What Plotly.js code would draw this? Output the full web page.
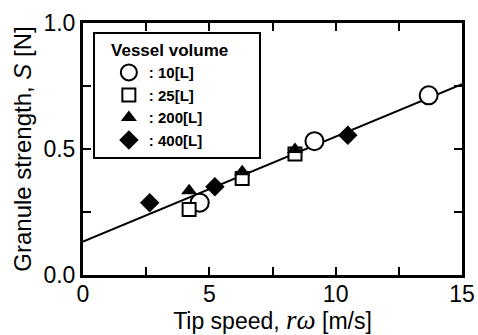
<!DOCTYPE html>
<html><head><meta charset="utf-8">
<script src="https://cdn.plot.ly/plotly-3.0.1.min.js"></script>
<style>html,body{margin:0;padding:0;background:#fff}#c{width:478px;height:335px}</style>
</head><body><div id="c"></div>
<script>
const x10 = [4.62, 9.16, 13.68];
const y10 = [0.287, 0.531, 0.713];
const x25 = [4.2, 6.3, 8.39];
const y25 = [0.260, 0.383, 0.480];
const x200 = [4.2, 6.3, 8.39];
const y200 = [0.334, 0.410, 0.498];
const x400 = [2.64, 5.22, 10.48];
const y400 = [0.287, 0.350, 0.555];
const fitX = [0, 15];
const fitY = [0.133, 0.757];
const names = [': 10[L]', ': 25[L]', ': 200[L]', ': 400[L]'];
const xTickVals = [0, 2.5, 5, 7.5, 10, 12.5, 15];
const xTickText = ['0', '', '5', '', '10', '', '15'];
const yTickVals = [0, 0.25, 0.5, 0.75, 1];
const yTickText = ['0.0', '', '0.5', '', '1.0'];

const F = 'Liberation Sans, Arial, sans-serif';
const traces = [
  {x: fitX, y: fitY, mode: 'lines', line: {color: '#000', width: 2}, showlegend: false, hoverinfo: 'skip'},
  {x: x10, y: y10, mode: 'markers', name: names[0], marker: {symbol: 'circle', size: 18, color: '#fff', line: {width: 2, color: '#000'}}},
  {x: x25, y: y25, mode: 'markers', name: names[1], marker: {symbol: 'square', size: 13, color: '#fff', line: {width: 2, color: '#000'}}},
  {x: x200, y: y200, mode: 'markers', name: names[2], marker: {symbol: 'triangle-up', size: 14, color: '#000'}},
  {x: x400, y: y400, mode: 'markers', name: names[3], marker: {symbol: 'diamond', size: 15, color: '#000'}}
];
const axBase = {showgrid: false, zeroline: false, showline: true, linecolor: '#000', linewidth: 3, mirror: 'ticks',
  ticks: 'inside', ticklen: 8, tickwidth: 2, tickcolor: '#000', tickfont: {family: F, size: 23, color: '#000'}};
const layout = {
  width: 478, height: 335,
  margin: {l: 83, r: 16, t: 23, b: 60},
  paper_bgcolor: '#fff', plot_bgcolor: 'rgba(0,0,0,0)',
  font: {family: F, color: '#000'},
  xaxis: Object.assign({}, axBase, {range: [0, 15], tickmode: 'array', tickvals: xTickVals, ticktext: xTickText,
    ticklabelstandoff: -4, layer: 'above traces',
    title: {text: 'Tip speed, <i><span style="font-family:Liberation Serif;font-size:27px">rω</span></i> [m/s]', font: {family: F, size: 23}, standoff: 3}}),
  yaxis: Object.assign({}, axBase, {range: [0, 1], tickmode: 'array', tickvals: yTickVals, ticktext: yTickText,
    ticklabelstandoff: 0, layer: 'above traces',
    title: {text: 'Granule strength, <i>S</i> [N]', font: {family: F, size: 24}, standoff: 6}}),
  showlegend: true,
  legend: {x: 0.026, y: 0.964, xanchor: 'left', yanchor: 'top', bgcolor: '#fff', bordercolor: '#000', borderwidth: 2,
    traceorder: 'normal', font: {family: F, size: 15, color: '#000', weight: 'bold'}, itemwidth: 30, tracegroupgap: 0,
    indentation: 14,
    title: {text: '<b>&nbsp;&nbsp;&nbsp;Vessel volume&nbsp;&nbsp;&nbsp;&nbsp;&nbsp;&nbsp;</b>', side: 'top', font: {family: F, size: 17, color: '#000'}}}
};
Plotly.newPlot('c', traces, layout, {displayModeBar: false, staticPlot: true}).then(function(gd){
  // nothing extra
});
</script></body></html>
